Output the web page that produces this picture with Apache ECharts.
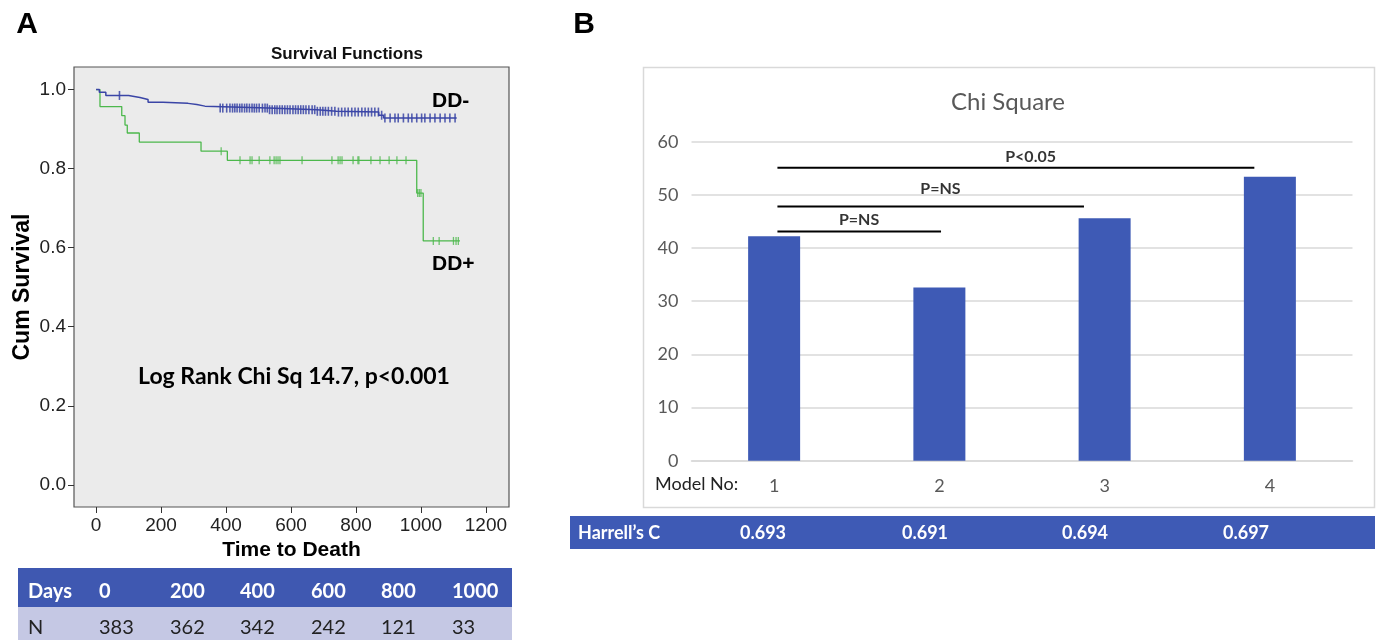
<!DOCTYPE html>
<html><head><meta charset="utf-8">
<script src="https://cdn.jsdelivr.net/npm/echarts@6/dist/echarts.min.js"></script>
<style>html,body{margin:0;padding:0;background:#fff}#c{width:1381px;height:640px}</style>
</head><body><div id="c"></div>
<script>
// ---------- Panel A: Kaplan-Meier ----------
const xTicks = [0, 200, 400, 600, 800, 1000, 1200];
const yTicks = [0, 0.2, 0.4, 0.6, 0.8, 1.0];
const greenTimes = [0, 12, 79, 89, 96, 133, 323, 404, 987, 1007, 1120];
const greenSurv  = [1, 0.957, 0.934, 0.910, 0.890, 0.867, 0.844, 0.821, 0.738, 0.617, 0.617];
const greenCensor = [385, 443, 474, 480, 502, 535, 548, 554, 560, 566, 634, 726, 745, 751, 757, 791, 806, 809, 846, 874, 902, 926, 954, 990, 995, 1000, 1038, 1056, 1100, 1108, 1115];
const blueTimes = [0, 10, 30, 100, 135, 160, 206, 283, 310, 335, 530, 680, 740, 870, 885, 1110];
const blueSurv  = [1, 0.993, 0.985, 0.98, 0.975, 0.968, 0.965, 0.962, 0.958, 0.953, 0.949, 0.945, 0.943, 0.935, 0.928, 0.928];
const blueCensor = [72, 382, 390, 402, 412, 420, 427, 434, 442, 449, 457, 464, 472, 480, 487, 494, 502, 512, 520, 527, 534, 542, 550, 557, 565, 573, 581, 589, 597, 606, 614, 622, 630, 638, 646, 655, 665, 673, 681, 690, 698, 706, 715, 725, 735, 746, 756, 766, 776, 787, 797, 807, 818, 828, 838, 848, 858, 869, 879, 889, 905, 920, 930, 946, 961, 972, 987, 1002, 1012, 1028, 1043, 1059, 1074, 1089, 1105];
const riskDays = ['0', '200', '400', '600', '800', '1000'];
const riskN = ['383', '362', '342', '242', '121', '33'];

// ---------- Panel B: Chi square bars ----------
const models = ['1', '2', '3', '4'];
const chiSq = [42.2, 32.6, 45.6, 53.4];
const harrellC = ['0.693', '0.691', '0.694', '0.697'];
const bracketFrom = [0.02, 0.02, 0.02];
const bracketTo = [1.01, 1.875, 2.906];
const bracketLevel = [43.1, 47.8, 55.1];
const bracketText = ['P=NS', 'P=NS', 'P<0.05'];
const bracketTextX = [0.514, 1.006, 1.552];
const bracketTextY = [45.3, 51.2, 57.2];

function survAt(times, surv, t) {
  let s = surv[0];
  for (let i = 0; i < times.length; i++) { if (times[i] <= t) s = surv[i]; }
  return s;
}
const greenLine = greenTimes.map((t, i) => [t, greenSurv[i]]);
const blueLine = blueTimes.map((t, i) => [t, blueSurv[i]]);
const greenCens = greenCensor.map(t => [t, survAt(greenTimes, greenSurv, t)]);
const blueCens = blueCensor.map(t => [t, survAt(blueTimes, blueSurv, t)]);

const chart = echarts.init(document.getElementById('c'), null, {renderer: 'canvas'});
const SANS = '"Liberation Sans", Arial, sans-serif';
const CAL = 'Lato, "Open Sans", sans-serif';

const series = [
  {type: 'line', xAxisIndex: 0, yAxisIndex: 0, step: 'end', data: greenLine, symbol: 'none',
   lineStyle: {color: '#4cb84c', width: 1.3}, silent: true},
  {type: 'line', xAxisIndex: 0, yAxisIndex: 0, step: 'end', data: blueLine, symbol: 'none',
   lineStyle: {color: '#3a45a6', width: 1.5}, silent: true},
  {type: 'scatter', xAxisIndex: 0, yAxisIndex: 0, data: greenCens, symbol: 'rect', symbolSize: [1.3, 8],
   itemStyle: {color: '#4cb84c'}, silent: true},
  {type: 'scatter', xAxisIndex: 0, yAxisIndex: 0, data: blueCens, symbol: 'rect', symbolSize: [1.6, 9],
   itemStyle: {color: '#3a45a6', opacity: 0.85}, silent: true},
  {type: 'bar', xAxisIndex: 1, yAxisIndex: 1, data: chiSq, barWidth: 52,
   itemStyle: {color: '#3e5ab5'}, silent: true}
];
bracketFrom.forEach((f, i) => {
  series.push({type: 'line', xAxisIndex: 2, yAxisIndex: 1, symbol: 'none', silent: true,
    data: [[f, bracketLevel[i]], [bracketTo[i], bracketLevel[i]]],
    lineStyle: {color: '#000', width: 2}});
});
series.push({type: 'scatter', xAxisIndex: 2, yAxisIndex: 1, symbolSize: 0, silent: true,
  data: bracketText.map((t, i) => ({value: [bracketTextX[i], bracketTextY[i]], name: t})),
  label: {show: true, position: 'inside', formatter: p => p.name, color: '#000',
          fontFamily: CAL, fontWeight: 'bold', fontSize: 16}});

const graphics = [
  {type: 'text', x: 27, y: 25, style: {text: 'A', font: 'bold 30px ' + SANS, fill: '#000', align: 'center', verticalAlign: 'middle'}},
  {type: 'text', x: 584, y: 25, style: {text: 'B', font: 'bold 30px ' + SANS, fill: '#000', align: 'center', verticalAlign: 'middle'}},
  {type: 'text', x: 347, y: 54, style: {text: 'Survival Functions', font: 'bold 17px ' + SANS, fill: '#111', align: 'center', verticalAlign: 'middle'}},
  {type: 'text', x: 432, y: 101, style: {text: 'DD-', font: 'bold 21px ' + SANS, fill: '#000', align: 'left', verticalAlign: 'middle'}},
  {type: 'text', x: 432, y: 264, style: {text: 'DD+', font: 'bold 21px ' + SANS, fill: '#000', align: 'left', verticalAlign: 'middle'}},
  {type: 'text', x: 294, y: 377, style: {text: 'Log Rank Chi Sq 14.7, p<0.001', font: 'bold 23px ' + CAL, fill: '#000', align: 'center', verticalAlign: 'middle'}},
  // risk table
  {type: 'rect', shape: {x: 18, y: 568, width: 494, height: 39}, style: {fill: '#3f58b1'}},
  {type: 'rect', shape: {x: 18, y: 607, width: 494, height: 33}, style: {fill: '#c5c8e4'}},
  {type: 'text', x: 28, y: 592, style: {text: 'Days', font: 'bold 20px ' + CAL, fill: '#fff', align: 'left', verticalAlign: 'middle'}},
  {type: 'text', x: 28, y: 628, style: {text: 'N', font: '20px ' + CAL, fill: '#222', align: 'left', verticalAlign: 'middle'}},
  // panel B frame and title
  {type: 'rect', shape: {x: 643.5, y: 67.5, width: 731, height: 440}, style: {fill: 'none', stroke: '#d9d9d9', lineWidth: 1.5}},
  {type: 'text', x: 1008, y: 102, style: {text: 'Chi Square', font: '24px ' + CAL, fill: '#595959', align: 'center', verticalAlign: 'middle'}},
  {type: 'text', x: 655, y: 484, style: {text: 'Model No:', font: '18px ' + CAL, fill: '#222', align: 'left', verticalAlign: 'middle'}},
  {type: 'rect', shape: {x: 570, y: 516, width: 805, height: 33}, style: {fill: '#3e5ab5'}},
  {type: 'text', x: 578, y: 533, style: {text: 'Harrell\u2019s C', font: 'bold 18px ' + CAL, fill: '#fff', align: 'left', verticalAlign: 'middle'}}
];
const riskX = [99, 170, 240, 311, 381, 452];
riskDays.forEach((d, i) => {
  graphics.push({type: 'text', x: riskX[i], y: 592, style: {text: d, font: 'bold 20px ' + CAL, fill: '#fff', align: 'left', verticalAlign: 'middle'}});
  graphics.push({type: 'text', x: riskX[i], y: 628, style: {text: riskN[i], font: '20px ' + CAL, fill: '#222', align: 'left', verticalAlign: 'middle'}});
});
const hcX = [763, 925, 1085, 1246];
harrellC.forEach((v, i) => {
  graphics.push({type: 'text', x: hcX[i], y: 533, style: {text: v, font: 'bold 18px ' + CAL, fill: '#fff', align: 'center', verticalAlign: 'middle'}});
});

chart.setOption({
  animation: false,
  backgroundColor: '#fff',
  grid: [
    {left: 74, top: 67, width: 435, height: 440, show: true, backgroundColor: '#ebebeb', borderColor: '#555', borderWidth: 1.2},
    {left: 691.5, top: 141.7, width: 661, height: 319}
  ],
  xAxis: [
    {type: 'value', gridIndex: 0, min: -68, max: 1271,
     axisLine: {show: false, onZero: false}, splitLine: {show: false},
     axisTick: {show: true, length: 6, customValues: xTicks, lineStyle: {color: '#333'}},
     axisLabel: {customValues: xTicks, formatter: v => String(v), fontFamily: SANS, fontSize: 19, color: '#222', margin: 9},
     name: 'Time to Death', nameLocation: 'middle', nameGap: 32,
     nameTextStyle: {fontFamily: SANS, fontWeight: 'bold', fontSize: 21, color: '#000'}},
    {type: 'category', gridIndex: 1, data: models,
     axisLine: {lineStyle: {color: '#d9d9d9', width: 1.5}}, axisTick: {show: false},
     axisLabel: {fontFamily: CAL, fontSize: 18, color: '#595959', margin: 16}},
    {type: 'value', gridIndex: 1, min: -0.5, max: 3.5, show: false}
  ],
  yAxis: [
    {type: 'value', gridIndex: 0, min: -0.056, max: 1.057,
     axisLine: {show: false, onZero: false}, splitLine: {show: false},
     axisTick: {show: true, length: 6, customValues: yTicks, lineStyle: {color: '#333'}},
     axisLabel: {customValues: yTicks, formatter: v => v.toFixed(1), fontFamily: SANS, fontSize: 19, color: '#222', margin: 8},
     name: 'Cum Survival', nameLocation: 'middle', nameGap: 40, nameRotate: 90,
     nameTextStyle: {fontFamily: SANS, fontWeight: 'bold', fontSize: 23, color: '#000'}},
    {type: 'value', gridIndex: 1, min: 0, max: 60, interval: 10,
     axisLine: {show: false}, axisTick: {show: false},
     splitLine: {lineStyle: {color: '#d9d9d9', width: 1.5}},
     axisLabel: {fontFamily: CAL, fontSize: 18, color: '#595959', margin: 13}}
  ],
  series: series,
  graphic: graphics
});
</script></body></html>
